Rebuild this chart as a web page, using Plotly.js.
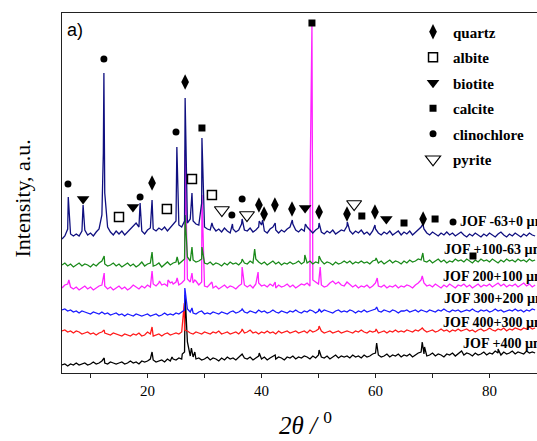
<!DOCTYPE html>
<html>
<head>
<meta charset="utf-8">
<script src="https://cdn.plot.ly/plotly-3.0.1.min.js"></script>
<style>
html,body{margin:0;padding:0;background:#fff;}
#chart{width:537px;height:441px;}
</style>
</head>
<body>
<div id="chart"></div>
<script>
// ---- sampling grid of the diffractograms (2theta, degrees) ----
const thetaStart = 5;
const thetaStep = 0.5;

// ---- series names ----
const seriesNames = ["JOF -63+0 µm", "JOF +100-63 µm", "JOF 200+100 µm", "JOF 300+200 µm", "JOF 400+300 µm", "JOF +400 µm"];
// vertical stacking offsets of each pattern (a.u.)
const seriesOffsets = [140, 108, 85, 61, 40, 11];

// ---- baseline intensities on the 0.5 deg grid (5 .. 88) ----
const baseM63 = [
 -6,-3,4,-1,-3,-1,-3,2,3,-2, 0,-3,1,4,18,40,6,1,-2,2,
 -1,2,-2,1,3,7,10,6,2,-1, 3,5,4,2,5,3,6,2,5,8,
 12,8,6,12,10,14,12,9,8,30, 6,4,3,6,2,4,1,5,2,0,
 4,1,3,9,3,2,5,1,3,6, 8,2,0,4,6,3,0,3,1,4,
 6,9,3,1,4,2,6,3,0,3, 5,1,-1,2,0,3,-1,1,3,2,
 7,2,-1,2,0,3,-1,1,-2,2, 4,0,-2,1,-1,2,-2,0,2,-2,
 1,-1,2,-2,1,3,6,4,0,-2, 1,-1,-3,0,-2,1,-2,0,-3,-1,
 1,-2,-4,-1,-3,0,-2,-4,-1,-3, 0,-2,-4,-1,1,-2,-4,-1,-3,0,
 -2,-4,-1,-3,0,-2,-3];
const base100 = [
 0,2,-1,1,-2,0,2,-1,1,0, -2,1,-1,2,4,1,-1,0,2,-1,
 1,-2,0,2,-1,1,-2,0,3,-1, 1,2,-1,0,2,-2,1,3,0,2,
 3,1,4,6,8,4,5,3,4,6, 2,1,3,0,2,1,-1,2,0,3,
 1,2,0,3,2,1,4,2,6,3, 1,3,0,2,4,1,3,0,2,1,
 3,1,2,4,1,3,2,4,1,3, 2,4,1,3,2,0,3,1,2,4,
 2,4,1,3,2,4,2,3,1,4, 5,2,4,1,3,5,2,4,3,1,
 4,2,5,3,4,6,5,4,3,5, 2,4,6,3,5,2,4,3,6,4,
 5,3,6,4,2,5,3,6,4,5, 3,6,4,2,5,3,6,4,5,3,
 6,4,5,3,6,4,5];
const base200 = [
 0,3,4,1,-1,1,-2,0,2,-1, 1,-2,0,2,3,2,-1,1,-2,0,
 2,-1,1,-2,0,3,1,-1,2,0, 3,1,4,2,5,3,4,2,5,4,
 6,3,5,8,9,6,5,7,3,6, 2,1,4,0,2,-1,1,3,0,2,
 1,-1,2,4,3,1,3,0,4,5, 2,3,1,4,2,0,3,1,2,4,
 1,3,0,2,4,3,5,2,8,6, 4,3,1,2,5,7,4,6,3,2,
 6,3,1,3,0,2,1,3,0,2, 5,2,1,3,0,2,1,3,0,2,
 1,3,2,0,3,5,8,5,2,3, 1,4,2,0,3,1,4,2,0,3,
 2,4,1,3,0,2,4,1,3,2, 4,1,3,5,2,4,1,3,2,4,
 1,3,5,2,4,1,3];
const base300 = [
 2,3,1,2,0,1,-1,1,0,-1, -2,0,-1,-2,0,-2,-1,-3,-2,-1,
 -3,-2,-4,-2,-3,-4,-2,-3,-4,-3, -2,-4,-3,-2,-4,-3,-1,-3,-2,-3,
 -1,-2,0,2,3,0,-1,-2,0,1, -2,-1,-2,0,-1,-2,0,-1,-2,0,
 1,-1,0,2,0,-1,1,0,-1,2, 0,1,-1,0,2,0,-1,1,0,-1,
 1,0,2,0,-1,1,0,2,1,-1, 1,0,2,1,0,-1,1,2,0,1,
 0,2,1,-1,1,0,2,0,1,2, 3,1,0,2,1,0,2,1,-1,1,
 1,2,0,1,2,0,2,1,0,2, 1,0,2,1,3,1,0,2,1,2,
 0,1,2,1,3,1,0,2,1,2, 0,1,3,1,2,0,1,2,1,3,
 1,2,0,2,1,3,2];
const base400 = [
 2,3,1,2,0,2,1,-1,0,1, -1,0,-2,0,1,0,-1,-2,0,-1,
 -2,-3,-1,-2,-3,-1,-2,0,-3,-2, 1,-1,-3,-2,-1,-3,-1,0,-2,-1,
 0,-1,1,3,2,0,-1,1,0,-1, 1,0,-1,1,0,2,-1,0,1,-1,
 0,1,-1,2,0,1,3,0,1,-1, 1,0,2,0,1,-1,2,0,1,2,
 0,1,2,0,1,2,0,3,1,2, 4,2,0,1,2,0,1,2,0,1,
 2,1,0,2,1,3,1,0,2,1, 2,0,1,2,0,2,1,3,1,2,
 1,3,2,1,3,2,4,3,1,2, 3,1,2,4,2,3,1,3,2,4,
 2,3,4,2,3,1,3,4,2,3, 5,3,2,4,3,5,2,4,3,5,
 4,3,5,4,6,4,5];
const basePlus400 = [
 -3,-2,-4,-2,-3,-1,-3,-2,-1,-3, -2,0,-2,-1,1,-1,-2,0,-1,-2,
 -1,0,-2,-1,1,-1,0,-2,1,0, 1,3,2,0,1,2,0,3,1,3,
 2,4,3,10,20,6,5,3,4,2, 3,5,2,4,3,1,4,2,5,3,
 4,2,5,7,4,3,5,2,4,6, 3,5,2,4,6,3,5,4,2,5,
 4,6,3,5,4,6,5,3,6,4, 7,5,4,6,3,5,7,4,6,5,
 6,4,7,5,6,4,7,5,6,8, 9,7,5,6,8,5,7,6,8,5,
 7,6,8,5,7,9,10,8,6,7, 9,6,8,7,5,8,7,9,6,8,
 10,7,9,8,6,9,7,8,10,7, 9,8,11,9,7,10,8,9,11,8,
 10,9,8,11,9,10,9];

// ---- diffraction peaks [2theta, intensity above offset] ----
const peaksM63 = [[6.1,36],[8.7,28],[12.25,80],[12.35,160],[12.45,95],[18.7,30],[20.8,33],[25.15,86],
 [26.6,135],[27.8,40],[29.55,95],[31.3,10],[34.9,9],[36.6,14],[39.6,12],[40.2,13],[42.4,10],
 [45.4,13],[47.7,9],[50.1,10],[55.05,11],[59.9,8],[68.3,9]];
const peaks100 = [[12.4,9],[20.8,13],[25.2,8],[26.6,50],[27.8,18],[29.55,18],[36.6,6],[38.8,16],
 [47.6,10],[50.1,9],[60.1,7],[68.3,12]];
const peaks200 = [[6.2,8],[12.4,15],[20.8,17],[22.1,7],[23.6,8],[24.3,6],[25.2,10],[26.6,138],[27.8,15],
 [28.3,8],[29.55,93],[31.3,6],[36.6,21],[39.4,16],[42.4,6],[48.55,118],[48.85,263],[50.3,21],
 [60.3,10],[68.2,12]];
const peaks300 = [[26.55,24],[27.8,4],[36.6,3],[50.1,3],[60.2,5]];
const peaks400 = [[12.4,3],[20.8,6],[26.45,30],[36.6,4],[50.1,7],[60.1,4],[68.2,5]];
const peaksPlus400 = [[12.4,4],[20.8,10],[24.3,5],[26.1,8],[26.6,67],[27.7,14],[28.3,10],[36.6,8],
 [39.6,9],[42.4,7],[50.1,12],[60.2,19],[68.2,20],[68.6,15],[75.1,11],[81.5,13]];

// ---- phase identification markers: 2theta and intensity ----
const quartzT = [20.8, 26.6, 39.55, 40.45, 42.35, 45.35, 50.1, 55.0, 59.9, 68.35];
const quartzI = [190, 291, 168, 159, 168, 164, 161, 159, 161, 154];
const albiteT = [15.0, 23.4, 27.8, 31.3];
const albiteI = [156, 164, 194, 178];
const biotiteT = [8.7, 17.45, 47.65, 61.9];
const biotiteI = [174, 166, 165, 154];
const calciteT = [29.55, 48.85, 57.6, 65.0, 70.45, 77.1];
const calciteI = [245, 350, 157, 150, 154, 117];
const clinoT = [6.05, 12.35, 18.7, 25.0, 34.8, 36.6, 73.6];
const clinoI = [189, 314, 176, 241, 158, 174, 151];
const pyriteT = [33.05, 37.45, 56.25];
const pyriteI = [163, 158, 169];

// label anchor positions (2theta, intensity)
const labelT = [74.45, 71.65, 71.5, 71.65, 71.5, 75.0];
const labelI = [152, 124, 97, 75, 51, 30];

const xTicks = [20, 40, 60, 80];

// ---- build ----
const bases = [baseM63, base100, base200, base300, base400, basePlus400];
const peaks = [peaksM63, peaks100, peaks200, peaks300, peaks400, peaksPlus400];
const colors = ["#101080", "#1a8a1a", "#ff22ff", "#1a1aff", "#ff1a1a", "#000000"];

function buildSeries(base, pk, off) {
  const pts = base.map((v, i) => [thetaStart + i * thetaStep, v]).concat(pk);
  pts.sort((a, b) => a[0] - b[0]);
  return { x: pts.map(p => p[0]), y: pts.map(p => p[1] + off) };
}

const traces = [];
const drawOrder = [5, 4, 3, 2, 1, 0];
drawOrder.forEach(k => {
  const s = buildSeries(bases[k], peaks[k], seriesOffsets[k]);
  traces.push({
    type: "scatter", mode: "lines", x: s.x, y: s.y, name: seriesNames[k],
    line: { color: colors[k], width: 1.3 }, showlegend: false, hoverinfo: "skip"
  });
});

function markerTrace(name, xs, ys, symbol, size, lw) {
  return {
    type: "scatter", mode: "markers", x: xs, y: ys, name: name, legendgroup: name,
    marker: { symbol: symbol, size: size, color: "#000", line: { color: "#000", width: lw } },
    showlegend: true, hoverinfo: "skip"
  };
}
traces.push(markerTrace("quartz", quartzT, quartzI, "diamond-tall", 11, 0));
traces.push(markerTrace("albite", albiteT, albiteI, "square-open", 9, 1.5));
traces.push(markerTrace("biotite", biotiteT, biotiteI, "triangle-down", 11, 0));
traces.push(markerTrace("calcite", calciteT, calciteI, "square", 7, 0));
traces.push(markerTrace("clinochlore", clinoT, clinoI, "circle", 7, 0));
traces.push(markerTrace("pyrite", pyriteT, pyriteI, "triangle-down-open", 13, 1.2));

const annotations = seriesNames.map((n, k) => ({
  x: labelT[k], y: labelI[k], xref: "x", yref: "y", text: "<b>" + n + "</b>",
  showarrow: false, xanchor: "left", yanchor: "middle",
  font: { family: "Liberation Serif", size: 14, color: "#000" }
}));
annotations.push({
  x: 0.006, y: 0.953, xref: "paper", yref: "paper", text: "a)", showarrow: false,
  xanchor: "left", yanchor: "middle", font: { family: "Liberation Sans", size: 18, color: "#000" }
});
annotations.push({
  x: -0.084, y: 0.485, xref: "paper", yref: "paper", text: "Intensity, a.u.", showarrow: false,
  textangle: -90, xanchor: "center", yanchor: "middle",
  font: { family: "Liberation Serif", size: 22, color: "#000" }
});
annotations.push({
  x: 0.512, y: -0.139, xref: "paper", yref: "paper",
  text: "<i>2θ /</i> <sup>0</sup>", showarrow: false, xanchor: "center", yanchor: "middle",
  font: { family: "Liberation Serif", size: 25, color: "#000" }
});

const layout = {
  width: 537, height: 441,
  margin: { l: 62, r: 0, t: 13, b: 68, pad: 0 },
  paper_bgcolor: "#ffffff", plot_bgcolor: "#ffffff",
  showlegend: true,
  legend: {
    x: 0.739, y: 0.993, xanchor: "left", yanchor: "top",
    bgcolor: "rgba(0,0,0,0)", borderwidth: 0, tracegroupgap: 3,
    font: { family: "Liberation Serif", size: 15, color: "#000", weight: "bold" }
  },
  xaxis: {
    range: [5, 88.33], showgrid: false, zeroline: false,
    showline: true, linecolor: "#222", linewidth: 1.3, mirror: true,
    ticks: "outside", ticklen: 4, tickwidth: 1, tickcolor: "#222",
    tickvals: xTicks, ticktext: xTicks.map(String),
    minor: { tickvals: [10, 30, 50, 70], ticks: "outside", ticklen: 4, tickwidth: 1, tickcolor: "#222" },
    tickfont: { family: "Liberation Serif", size: 15, color: "#000" }
  },
  yaxis: {
    range: [0, 360], showgrid: false, zeroline: false,
    showline: true, linecolor: "#222", linewidth: 1.3,
    showticklabels: false, ticks: ""
  },
  annotations: annotations
};

Plotly.newPlot("chart", traces, layout, { displayModeBar: false, staticPlot: true });
</script>
</body>
</html>
